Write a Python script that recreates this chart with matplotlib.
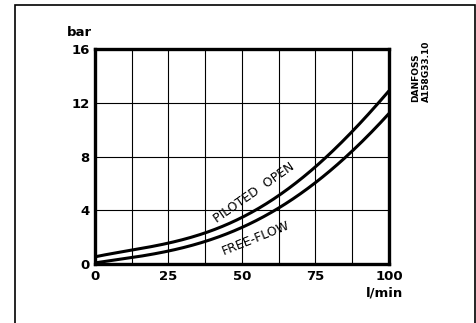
import matplotlib
matplotlib.use('Agg')
import matplotlib.pyplot as plt
from matplotlib.patches import Rectangle
import numpy as np

# flow (l/min) and pressure drop (bar)
flow = [0, 12.5, 25, 37.5, 50, 62.5, 75, 87.5, 100]
piloted_open = [0.55, 1.0, 1.55, 2.35, 3.5, 5.1, 7.1, 10.0, 12.85]
free_flow = [0.1, 0.42, 1.0, 1.74, 2.66, 4.15, 6.1, 8.4, 11.2]

x_ticks = [0, 25, 50, 75, 100]
y_ticks = [0, 4, 8, 12, 16]

plt.rcParams['font.family'] = ['DejaVu Sans']

fig = plt.figure(figsize=(4.77, 3.23), dpi=100)
W, H = 477, 323
ax = fig.add_axes([95 / W, 1 - 264 / H, (389 - 95) / W, (264 - 49) / H])

# smooth the read points
xs = np.linspace(0, 100, 200)
for ys in (piloted_open, free_flow):
    cs = np.polyfit(flow, ys, 4)
    ax.plot(xs, np.polyval(cs, xs), color='black', lw=2.2, solid_capstyle='butt')

ax.set_xlim(0, 100)
ax.set_ylim(0, 16)
ax.set_xticks(np.arange(0, 100.1, 12.5))
ax.set_yticks(y_ticks)
ax.grid(True, color='black', lw=0.8)
ax.set_xticklabels(['0', '', '25', '', '50', '', '75', '', '100'])
ax.tick_params(length=0, labelsize=9.5, pad=4)
for lab in ax.get_xticklabels() + ax.get_yticklabels():
    lab.set_fontweight('bold')
for s in ax.spines.values():
    s.set_linewidth(2.4)

ax.text(-0.054, 1.045, 'bar', transform=ax.transAxes, ha='center', va='bottom',
        fontsize=9.5, fontweight='bold')
ax.text(0.986, -0.105, 'l/min', transform=ax.transAxes, ha='center', va='top',
        fontsize=9.5, fontweight='bold')

ax.text(54, 5.3, 'PILOTED  OPEN', rotation=35, ha='center', va='center', fontsize=9)
ax.text(54.8, 1.9, 'FREE-FLOW', rotation=22, ha='center', va='center', fontsize=9)

fig.text(416 / W, 1 - 102 / H, 'DANFOSS', rotation=90, ha='center', va='bottom',
         fontsize=6.5, fontweight='bold')
fig.text(426 / W, 1 - 102 / H, 'A158G33.10', rotation=90, ha='center', va='bottom',
         fontsize=6.5, fontweight='bold')

# outer frame
fig.patches.append(Rectangle((15 / W, -0.1), (475 - 15) / W, 1 - 5 / H + 0.1,
                             transform=fig.transFigure, fill=False, lw=1.2, color='black'))

fig.savefig('out.png', dpi=100)
